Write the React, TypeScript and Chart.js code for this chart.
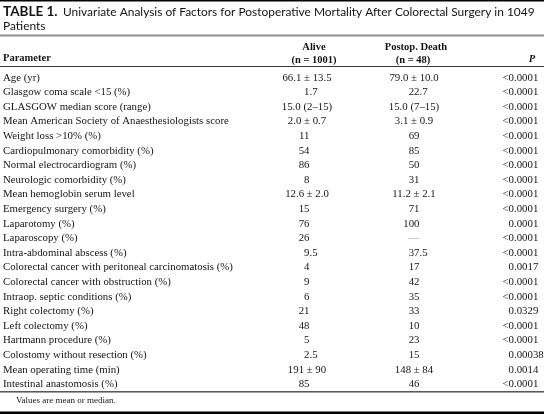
import React, { useEffect, useRef } from "react";
import { Chart, registerables } from "chart.js";

Chart.register(...registerables);

// ---- text & data ----
const titleLabel = "TABLE 1.";
const titleLine1 = "Univariate Analysis of Factors for Postoperative Mortality After Colorectal Surgery in 1049";
const titleLine2 = "Patients";
const headerParameter = "Parameter";
const headerAlive = ["Alive", "(n = 1001)"];
const headerDeath = ["Postop. Death", "(n = 48)"];
const headerP = "P";
const footnote = "Values are mean or median.";

const parameters = [
  "Age (yr)",
  "Glasgow coma scale <15 (%)",
  "GLASGOW median score (range)",
  "Mean American Society of Anaesthesiologists score",
  "Weight loss >10% (%)",
  "Cardiopulmonary comorbidity (%)",
  "Normal electrocardiogram (%)",
  "Neurologic comorbidity (%)",
  "Mean hemoglobin serum level",
  "Emergency surgery (%)",
  "Laparotomy (%)",
  "Laparoscopy (%)",
  "Intra-abdominal abscess (%)",
  "Colorectal cancer with peritoneal carcinomatosis (%)",
  "Colorectal cancer with obstruction (%)",
  "Intraop. septic conditions (%)",
  "Right colectomy (%)",
  "Left colectomy (%)",
  "Hartmann procedure (%)",
  "Colostomy without resection (%)",
  "Mean operating time (min)",
  "Intestinal anastomosis (%)",
];

const aliveValues = [
  "66.1 ± 13.5", "1.7", "15.0 (2–15)", "2.0 ± 0.7", "11", "54", "86", "8",
  "12.6 ± 2.0", "15", "76", "26", "9.5", "4", "9", "6", "21", "48", "5",
  "2.5", "191 ± 90", "85",
];

const deathValues = [
  "79.0 ± 10.0", "22.7", "15.0 (7–15)", "3.1 ± 0.9", "69", "85", "50", "31",
  "11.2 ± 2.1", "71", "100", "—", "37.5", "17", "42", "35", "33", "10", "23",
  "15", "148 ± 84", "46",
];

const pValues = [
  "<0.0001", "<0.0001", "<0.0001", "<0.0001", "<0.0001", "<0.0001", "<0.0001",
  "<0.0001", "<0.0001", "<0.0001", "0.0001", "<0.0001", "<0.0001", "0.0017",
  "<0.0001", "<0.0001", "0.0329", "<0.0001", "<0.0001", "0.00038", "0.0014",
  "<0.0001",
];

// ---- layout constants (pixels on the hidden linear x axis) ----
const W = 544;
const H = 414;
const COL_PARAM_X = 3;
const COL_ALIVE_CENTER = 307;
const COL_ALIVE_INT_END = 309.5;
const COL_DEATH_CENTER = 414;
const COL_DEATH_INT_END = 419.5;
const COL_P_DOT = 514;
const SERIF = "'Liberation Serif', 'Times New Roman', serif";
const SANS = "Lato, 'Open Sans', sans-serif";
const TEXT = "#141414";

function isPlainNumber(s: string) {
  return /^[0-9.]+$/.test(s);
}

const tablePlugin = {
  id: "tablePlugin",
  beforeDraw(chart: any) {
    const ctx = chart.ctx;
    ctx.save();
    ctx.fillStyle = "#ffffff";
    ctx.fillRect(0, 0, chart.width, chart.height);
    ctx.restore();
  },
  afterDraw(chart: any) {
    const ctx: CanvasRenderingContext2D = chart.ctx;
    const xs = chart.scales.x;
    const ys = chart.scales.y;
    const px = (v: number) => xs.getPixelForValue(v);
    ctx.save();

    // rules
    ctx.fillStyle = "#000000";
    ctx.fillRect(0, 0, W, 1.5);
    ctx.fillStyle = "#8e8e8e";
    ctx.fillRect(0, 34.5, W, 2);
    ctx.fillStyle = "#3a3a3a";
    ctx.fillRect(0, 66, W, 1);
    ctx.fillStyle = "#5a5a5a";
    ctx.fillRect(0, 391, W, 1);
    ctx.fillStyle = "#a0a0a0";
    ctx.fillRect(0, 392, W, 1);
    ctx.fillStyle = "#000000";
    ctx.fillRect(0, 411.5, W, 2.5);

    // title
    ctx.fillStyle = TEXT;
    ctx.textBaseline = "alphabetic";
    ctx.textAlign = "left";
    ctx.font = `bold 13.5px ${SANS}`;
    ctx.fillText(titleLabel, px(3), 16);
    const startX = 63;
    const target = 535 - startX;
    ctx.font = `12px ${SANS}`;
    const w12 = ctx.measureText(titleLine1).width;
    const fs = Math.min(13.5, (12 * target) / w12);
    ctx.font = `${fs.toFixed(2)}px ${SANS}`;
    ctx.fillText(titleLine1, px(startX), 16);
    ctx.fillText(titleLine2, px(3), 30);

    // header
    ctx.font = `bold 10.5px ${SERIF}`;
    ctx.textAlign = "left";
    ctx.fillText(headerParameter, px(COL_PARAM_X), 61);
    ctx.textAlign = "center";
    ctx.fillText(headerAlive[0], px(314), 50);
    ctx.fillText(headerAlive[1], px(314), 63);
    ctx.fillText(headerDeath[0], px(416), 50);
    ctx.fillText(headerDeath[1], px(413), 63);
    ctx.font = `italic bold 10.5px ${SERIF}`;
    ctx.fillText(headerP, px(532), 62);

    // body rows
    ctx.font = `10.8px ${SERIF}`;
    const drawDecimal = (s: string, intEnd: number, yy: number) => {
      const dot = s.indexOf(".");
      const intPart = dot >= 0 ? s.slice(0, dot) : s;
      const w = ctx.measureText(intPart).width;
      ctx.textAlign = "left";
      ctx.fillText(s, px(intEnd) - w, yy);
    };
    parameters.forEach((p, i) => {
      const yy = ys.getPixelForValue(i) + 3.5;
      ctx.fillStyle = TEXT;
      ctx.textAlign = "left";
      ctx.fillText(p, px(COL_PARAM_X), yy);

      const a = aliveValues[i];
      if (isPlainNumber(a)) drawDecimal(a, COL_ALIVE_INT_END, yy);
      else {
        ctx.textAlign = "center";
        ctx.fillText(a, px(COL_ALIVE_CENTER), yy);
      }
      const d = deathValues[i];
      if (isPlainNumber(d)) drawDecimal(d, COL_DEATH_INT_END, yy);
      else {
        if (d === "—") ctx.fillStyle = "#9a9a9a";
        ctx.textAlign = "center";
        ctx.fillText(d, px(COL_DEATH_CENTER), yy);
        ctx.fillStyle = TEXT;
      }
      drawDecimal(pValues[i], COL_P_DOT, yy);
    });

    // footnote
    ctx.font = `9px ${SERIF}`;
    ctx.textAlign = "left";
    ctx.fillText(footnote, px(16), 403);
    ctx.restore();
  },
};

export default function App() {
  const ref = useRef<HTMLCanvasElement | null>(null);
  useEffect(() => {
    if (!ref.current) return;
    const chart = new Chart(ref.current, {
      type: "bar",
      data: {
        labels: parameters,
        datasets: [
          {
            label: "rows",
            data: parameters.map(() => null),
            backgroundColor: "rgba(0,0,0,0)",
          },
        ],
      },
      options: {
        indexAxis: "y",
        responsive: false,
        animation: false,
        devicePixelRatio: 1,
        layout: { padding: { top: 69.7, bottom: 23, left: 0, right: 0 } },
        scales: {
          x: { type: "linear", min: 0, max: W, display: false },
          y: { type: "category", display: false, offset: true },
        },
        plugins: {
          legend: { display: false },
          tooltip: { enabled: false },
          title: { display: false },
        },
        events: [],
      } as any,
      plugins: [tablePlugin],
    });
    return () => chart.destroy();
  }, []);
  return (
    <div style={{ position: "fixed", left: 0, top: 0, width: W, height: H, background: "#fff" }}>
      <canvas ref={ref} width={W} height={H} style={{ display: "block", width: W, height: H }} />
    </div>
  );
}
